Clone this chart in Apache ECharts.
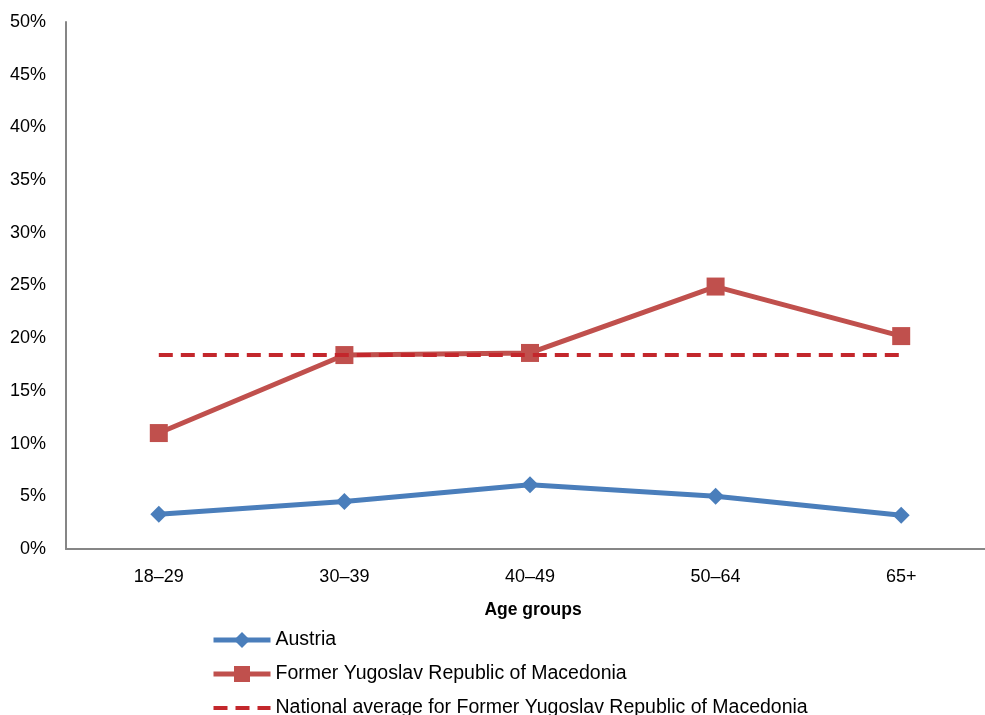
<!DOCTYPE html>
<html>
<head>
<meta charset="utf-8">
<script src="https://cdn.jsdelivr.net/npm/echarts@6/dist/echarts.min.js"></script>
<style>
  html, body { margin: 0; padding: 0; background: #fff; overflow: hidden; }
  #chart { width: 994px; height: 740px; }
</style>
</head>
<body>
<div id="chart"></div>
<script>
// Age groups on the category axis
const ageGroups = ['18–29', '30–39', '40–49', '50–64', '65+'];
// Shares by age group, in percent
const austria = [3.3, 4.5, 6.1, 5.0, 3.2];
const macedonia = [11.0, 18.4, 18.6, 24.9, 20.2];
const macedoniaAverage = [18.4, 18.4, 18.4, 18.4, 18.4];

const seriesNames = [
  'Austria',
  'Former Yugoslav Republic of Macedonia',
  'National average for Former Yugoslav Republic of Macedonia'
];

const font = 'Liberation Sans';
const chart = echarts.init(document.getElementById('chart'));

chart.setOption({
  animation: false,
  textStyle: { fontFamily: font },
  grid: { left: 66, top: 22, width: 928, height: 527, containLabel: false },
  legend: {
    orient: 'vertical',
    left: 211,
    top: 630,
    padding: 0,
    itemWidth: 57,
    itemHeight: 20,
    itemGap: 14,
    textStyle: { fontFamily: font, fontSize: 19.5, color: '#000' },
    data: [
      { name: seriesNames[0], lineStyle: { width: 5 } },
      { name: seriesNames[1], lineStyle: { width: 5 } },
      { name: seriesNames[2], lineStyle: { width: 4, type: [14, 8] }, itemStyle: { opacity: 0 } }
    ]
  },
  xAxis: {
    type: 'category',
    data: ageGroups,
    boundaryGap: true,
    name: 'Age groups',
    nameLocation: 'middle',
    nameGap: 52,
    nameTextStyle: { fontFamily: font, fontSize: 17.5, fontWeight: 'bold', color: '#000', padding: [0, 0, 0, 6] },
    axisLine: { lineStyle: { color: '#868686', width: 2 } },
    axisTick: { show: false },
    axisLabel: { fontFamily: font, fontSize: 18, color: '#000', margin: 19 }
  },
  yAxis: {
    type: 'value',
    min: 0,
    max: 50,
    interval: 5,
    splitLine: { show: false },
    axisLine: { show: true, lineStyle: { color: '#868686', width: 2 } },
    axisTick: { show: false },
    axisLabel: { fontFamily: font, fontSize: 18, color: '#000', margin: 20, formatter: '{value}%' }
  },
  series: [
    {
      name: seriesNames[0],
      type: 'line',
      data: austria,
      symbol: 'diamond',
      symbolSize: 17,
      lineStyle: { color: '#4a7ebb', width: 5 },
      itemStyle: { color: '#4a7ebb' },
      z: 3
    },
    {
      name: seriesNames[1],
      type: 'line',
      data: macedonia,
      symbol: 'rect',
      symbolSize: 18,
      lineStyle: { color: '#c0504d', width: 5 },
      itemStyle: { color: '#c0504d' },
      z: 2
    },
    {
      name: seriesNames[2],
      type: 'line',
      data: macedoniaAverage,
      symbol: 'none',
      lineStyle: { color: '#c3272c', width: 4, type: [14, 8] },
      itemStyle: { color: '#c3272c' },
      z: 4
    }
  ]
});
</script>
</body>
</html>
